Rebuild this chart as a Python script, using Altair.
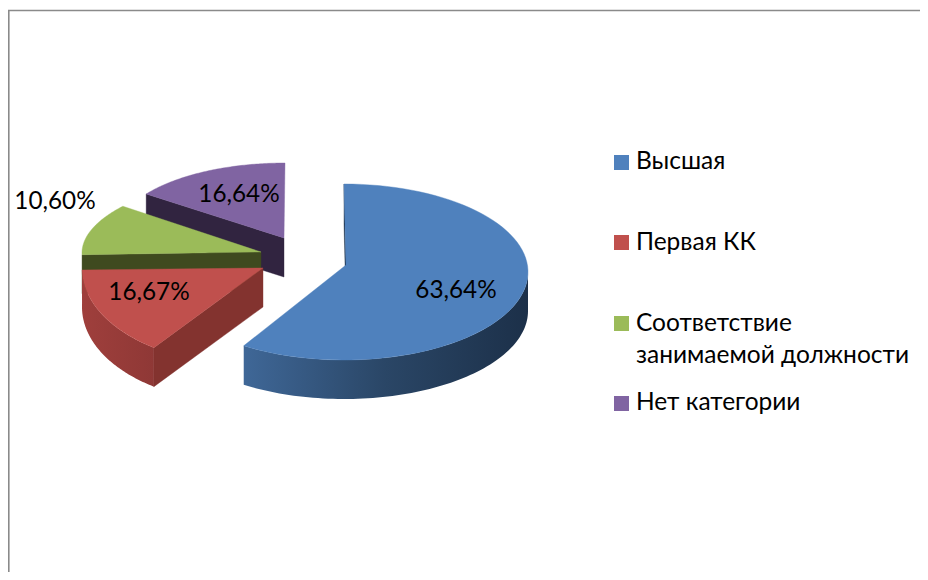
import numpy as np
import pandas as pd
import altair as alt

# --- chart values -----------------------------------------------------------
categories = ["Высшая", "Первая КК", "Соответствие занимаемой должности", "Нет категории"]
percents = [63.64, 16.67, 10.60, 16.64]
percent_labels = ["63,64%", "16,67%", "10,60%", "16,64%"]
top_colors = ["#4f81bd", "#c0504d", "#9bbb59", "#8064a2"]

legend_lines = [["Высшая"], ["Первая КК"], ["Соответствие", "занимаемой должности"], ["Нет категории"]]

# --- drawing geometry of the exploded tilted pie (page pixels) ----------------
FONT = "Lato"
DEPTH = 39
#            apex        ellipse centre  rx   ry
GEOM = [((346, 265), (344, 272), 184, 88),
        ((263, 268), (240, 268), 158, 95),
        ((261, 252), (317, 253), 235, 83),
        ((284, 238), (285, 234), 168, 71)]
LABEL_POS = [(456, 298), (149, 300), (55, 209), (239, 202)]
LEGEND_Y = [155, 235, 316, 396]
LEGEND_BASE = [[169], [250], [331, 363], [410]]

shares = np.array(percents) / sum(percents) * 360.0
edges = np.concatenate([[0.0], np.cumsum(shares)])

X = alt.X("x:Q", scale=alt.Scale(domain=[8, 920], range=[0, 912]), axis=None)
Y = alt.Y("y:Q", scale=alt.Scale(domain=[8, 572], range=[0, 564]), axis=None)


def arc_pts(i, a, b, n=80):
    (_, (cx, cy), rx, ry) = GEOM[i]
    t = np.radians(np.linspace(a, b, n))
    return cx + rx * np.sin(t), cy - ry * np.cos(t)


def poly(xs, ys, fill):
    df = pd.DataFrame({"x": xs, "y": ys, "o": np.arange(len(xs))})
    return alt.Chart(df).mark_line(fill=fill, stroke=fill, strokeWidth=0.4, interpolate="linear").encode(
        x=X, y=Y, order="o:Q")


def top(i):
    ax, ay = GEOM[i][0]
    xs, ys = arc_pts(i, edges[i], edges[i + 1])
    return poly(np.r_[ax, xs, ax], np.r_[ay, ys, ay], top_colors[i])


def wall(i, a, b, stops):
    xs, ys = arc_pts(i, a, b)
    df = pd.DataFrame({"x": xs, "y": ys, "y2": ys + DEPTH}).sort_values("x")
    grad = alt.Gradient(gradient="linear", x1=0, x2=1, y1=0, y2=0,
                        stops=[alt.GradientStop(offset=o, color=c) for o, c in stops])
    return alt.Chart(df).mark_area(color=grad, orient="vertical").encode(x=X, y=Y, y2="y2:Q")


def face(p, q, fill):
    return poly([p[0], q[0], q[0], p[0], p[0]],
                [p[1], q[1], q[1] + DEPTH, p[1] + DEPTH, p[1]], fill)


def end(i, angle):
    x, y = arc_pts(i, angle, angle, 1)
    return (float(x[0]), float(y[0]))


layers = []

# frame
layers.append(alt.Chart(pd.DataFrame({"x": [8], "x2": [920], "y": [10.5]}))
              .mark_rule(color="#8a8a8a", strokeWidth=1.5).encode(x=X, x2="x2:Q", y=Y))
layers.append(alt.Chart(pd.DataFrame({"x": [8.8], "y": [10], "y2": [572]}))
              .mark_rule(color="#8a8a8a", strokeWidth=1.6).encode(x=X, y=Y, y2="y2:Q"))

# purple
layers += [face(GEOM[3][0], end(3, edges[3]), "#312440"), top(3)]
# green
layers += [face(GEOM[2][0], end(2, edges[2]), "#3f4a1f"), top(2)]
# red
layers += [wall(1, edges[1], edges[2], [(0, "#9f3f3c"), (1, "#8f3836")]),
           face(GEOM[1][0], end(1, edges[1]), "#83332f"), top(1)]
# blue
layers += [face(GEOM[0][0], end(0, 0.0), "#1c3049"),
           wall(0, 90, edges[1], [(0, "#3f6797"), (0.5, "#2a4666"), (1, "#1c3049")]),
           top(0)]

# value labels
lab = pd.DataFrame({"x": [p[0] for p in LABEL_POS], "y": [p[1] for p in LABEL_POS], "t": percent_labels})
layers.append(alt.Chart(lab).mark_text(font=FONT, fontSize=24.3, color="#000000", align="center",
                                       baseline="alphabetic").encode(x=X, y=Y, text="t:N"))

# legend
sq = pd.DataFrame({"x": [614] * 4, "x2": [629] * 4, "y": LEGEND_Y, "y2": [v + 15 for v in LEGEND_Y],
                   "c": top_colors})
layers.append(alt.Chart(sq).mark_rect().encode(x=X, x2="x2:Q", y=Y, y2="y2:Q",
                                               color=alt.Color("c:N", scale=None)))
rows = [(636, b, t) for lines, bases in zip(legend_lines, LEGEND_BASE) for t, b in zip(lines, bases)]
leg = pd.DataFrame(rows, columns=["x", "y", "t"])
layers.append(alt.Chart(leg).mark_text(font=FONT, fontSize=24.5, color="#000000", align="left",
                                       baseline="alphabetic").encode(x=X, y=Y, text="t:N"))

chart = alt.layer(*layers).properties(width=912, height=564, padding=0, autosize=alt.AutoSizeParams(type="none"),
                                      background="#ffffff"
                                      ).configure_view(stroke=None)
chart.save("out.html", embed_options={"renderer": "svg", "actions": False})
